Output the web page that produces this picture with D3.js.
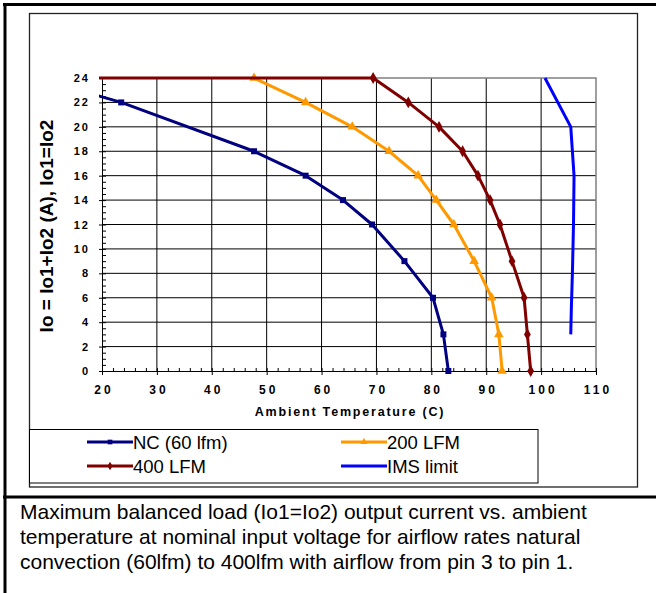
<!DOCTYPE html>
<html>
<head>
<meta charset="utf-8">
<script src="https://cdn.jsdelivr.net/npm/d3@7"></script>
<style>
  body { margin: 0; background: #fff; }
  svg { display: block; font-family: Arial, "Liberation Sans", sans-serif; }
</style>
</head>
<body>
<div id="chart"></div>
<script>
// derating curves, values
const xTicks = [20, 30, 40, 50, 60, 70, 80, 90, 100, 110];
const yTicks = [0, 2, 4, 6, 8, 10, 12, 14, 16, 18, 20, 22, 24];

const ncTemp = [8, 23.5, 47.7, 57.1, 63.9, 69.2, 75.1, 80.3, 82.2, 83.1];
const ncLoad = [24, 22, 18, 16, 14, 12, 9, 6, 3, 0];

const lfm200Temp = [47.7, 57.1, 65.6, 72.3, 77.6, 80.9, 84.1, 87.8, 91.0, 92.3, 92.9];
const lfm200Load = [24, 22, 20, 18, 16, 14, 12, 9, 6, 3, 0];

const lfm400Temp = [10, 69.4, 75.8, 81.4, 85.7, 88.5, 90.7, 92.5, 94.7, 96.9, 97.5, 98.1];
const lfm400Load = [24, 24, 22, 20, 18, 16, 14, 12, 9, 6, 3, 0];

const imsTemp = [100.7, 105.4, 106.0, 105.9, 105.7, 105.5, 105.4];
const imsLoad = [24, 20, 16, 12, 8, 5, 3];

const seriesNames = ["NC (60 lfm)", "200 LFM", "400 LFM", "IMS limit"];
const seriesColors = ["#000080", "#FF9900", "#800000", "#0000FF"];
const seriesMarkers = ["square", "triangle", "diamond", null];

const xTitle = "Ambient Temperature (C)";
const yTitle = "Io = Io1+Io2 (A), Io1=Io2";
const caption = [
    "Maximum balanced load (Io1=Io2) output current vs. ambient",
    "temperature at nominal input voltage for airflow rates natural",
    "convection (60lfm) to 400lfm with airflow from pin 3 to pin 1."
];

const series = [
    {temp: ncTemp, load: ncLoad},
    {temp: lfm200Temp, load: lfm200Load},
    {temp: lfm400Temp, load: lfm400Load},
    {temp: imsTemp, load: imsLoad}
].map((s, i) => ({
    name: seriesNames[i],
    color: seriesColors[i],
    marker: seriesMarkers[i],
    points: s.temp.map((t, j) => ({x: t, y: s.load[j]}))
}));

const width = 656, height = 593;
const plot = {left: 102, right: 596, top: 78, bottom: 371};

const svg = d3.select("#chart").append("svg")
    .attr("width", width)
    .attr("height", height);

// outer page frame + caption divider
svg.append("line").attr("x1", 3).attr("x2", width).attr("y1", 4.5).attr("y2", 4.5)
    .attr("stroke", "#000").attr("stroke-width", 3);
svg.append("line").attr("x1", 5).attr("x2", 5).attr("y1", 3).attr("y2", height)
    .attr("stroke", "#000").attr("stroke-width", 3);
svg.append("line").attr("x1", 3).attr("x2", width).attr("y1", 497).attr("y2", 497)
    .attr("stroke", "#000").attr("stroke-width", 3);

// chart area frame
svg.append("rect")
    .attr("x", 29.5).attr("y", 13.5)
    .attr("width", 608).attr("height", 473.5)
    .attr("fill", "none").attr("stroke", "#222").attr("stroke-width", 1.3);

// scales
const x = d3.scaleLinear().domain([20, 110]).range([plot.left, plot.right]);
const y = d3.scaleLinear().domain([0, 24]).range([plot.bottom, plot.top]);

// gridlines
const grid = svg.append("g").attr("class", "grid");
grid.selectAll(".vgrid")
    .data(xTicks.slice(1, -1))
    .enter().append("line")
    .attr("x1", d => x(d)).attr("x2", d => x(d))
    .attr("y1", plot.top).attr("y2", plot.bottom)
    .attr("stroke", "#000").attr("stroke-width", 1);
grid.selectAll(".hgrid")
    .data(yTicks.slice(1, -1))
    .enter().append("line")
    .attr("x1", plot.left).attr("x2", plot.right)
    .attr("y1", d => y(d)).attr("y2", d => y(d))
    .attr("stroke", "#000").attr("stroke-width", 1);

// plot border (top and right, grey like excel)
svg.append("path")
    .attr("d", `M${plot.left},${plot.top}H${plot.right}V${plot.bottom}`)
    .attr("fill", "none").attr("stroke", "#808080").attr("stroke-width", 1.5);

// minor ticks point inwards
const xMinor = d3.axisBottom(x).tickValues(d3.range(20, 111, 2)).tickSize(-3).tickFormat("");
svg.append("g").attr("class", "x-minor")
    .attr("transform", `translate(0,${plot.bottom})`)
    .call(xMinor)
    .call(g => g.select(".domain").remove());

const yMinor = d3.axisLeft(y).tickValues(d3.range(0, 24.01, 0.5)).tickSize(-4).tickFormat("");
svg.append("g").attr("class", "y-minor")
    .attr("transform", `translate(${plot.left},0)`)
    .call(yMinor)
    .call(g => g.select(".domain").remove());

// major axes
const xAxis = d3.axisBottom(x).tickValues(xTicks).tickSizeInner(4).tickSizeOuter(0).tickPadding(10.5);
const xAxisGroup = svg.append("g")
    .attr("class", "x-axis")
    .attr("transform", `translate(0,${plot.bottom})`)
    .call(xAxis);
xAxisGroup.selectAll("text")
    .attr("font-size", 12).attr("font-weight", "bold")
    .attr("letter-spacing", 3).attr("dx", 1.5)
    .attr("fill", "#000");

const yAxis = d3.axisLeft(y).tickValues(yTicks).tickSizeInner(3).tickSizeOuter(0).tickPadding(9);
const yAxisGroup = svg.append("g")
    .attr("class", "y-axis")
    .attr("transform", `translate(${plot.left},0)`)
    .call(yAxis);
yAxisGroup.selectAll("text")
    .attr("font-size", 11).attr("font-weight", "bold")
    .attr("letter-spacing", 2)
    .attr("fill", "#000");

svg.selectAll(".x-axis line, .y-axis line, .x-minor line, .y-minor line, .x-axis .domain, .y-axis .domain")
    .attr("stroke", "#000").attr("stroke-width", 1);

// axis titles
svg.append("text")
    .attr("x", (plot.left + plot.right) / 2 + 1)
    .attr("y", 415.5)
    .attr("text-anchor", "middle")
    .attr("font-size", 12.5).attr("font-weight", "bold")
    .attr("letter-spacing", 1.8)
    .text(xTitle);

svg.append("text")
    .attr("transform", "translate(53,226) rotate(-90)")
    .attr("text-anchor", "middle")
    .attr("font-size", 19).attr("font-weight", "bold")
    .text(yTitle);

// lines, clipped to the plot area
svg.append("clipPath").attr("id", "plot-clip")
    .append("rect")
    .attr("x", plot.left - 3).attr("y", plot.top - 6)
    .attr("width", plot.right - plot.left + 6).attr("height", plot.bottom - plot.top + 12);

const lineGen = d3.line().x(d => x(d.x)).y(d => y(d.y));

const symbolType = {square: d3.symbolSquare, triangle: d3.symbolTriangle, diamond: d3.symbolDiamond};
const symbolSize = {square: 36, triangle: 40, diamond: 40};

const seriesGroup = svg.append("g").attr("clip-path", "url(#plot-clip)");

series.forEach(s => {
    seriesGroup.append("path")
        .datum(s.points)
        .attr("fill", "none")
        .attr("stroke", s.color)
        .attr("stroke-width", 3)
        .attr("stroke-linejoin", "round")
        .attr("d", lineGen);

    if (s.marker) {
        seriesGroup.selectAll(null)
            .data(s.points)
            .enter().append("path")
            .attr("transform", d => `translate(${x(d.x)},${y(d.y)})`)
            .attr("d", d3.symbol().type(symbolType[s.marker]).size(symbolSize[s.marker]))
            .attr("fill", s.color);
    }
});

// legend
svg.append("rect")
    .attr("x", 29.5).attr("y", 429.5)
    .attr("width", 508.5).attr("height", 53.5)
    .attr("fill", "#fff").attr("stroke", "#000").attr("stroke-width", 1);

const legendPos = [[87, 442], [341, 442], [87, 466], [341, 466]];
const legend = svg.append("g").attr("class", "legend");
series.forEach((s, i) => {
    const [lx, ly] = legendPos[i];
    const item = legend.append("g").attr("transform", `translate(${lx},${ly})`);
    item.append("line")
        .attr("x1", 0).attr("x2", 46)
        .attr("stroke", s.color).attr("stroke-width", 3);
    if (s.marker) {
        item.append("path")
            .attr("transform", "translate(23,0)")
            .attr("d", d3.symbol().type(symbolType[s.marker]).size(22))
            .attr("fill", s.color);
    }
    item.append("text")
        .attr("x", 46).attr("y", 6.8)
        .attr("font-size", 18.5)
        .text(s.name);
});

// caption under the chart
svg.append("g").attr("class", "caption")
    .selectAll("text")
    .data(caption)
    .enter().append("text")
    .attr("x", 20)
    .attr("y", (d, i) => 518.5 + i * 25)
    .attr("font-size", 21)
    .text(d => d);
</script>
</body>
</html>
